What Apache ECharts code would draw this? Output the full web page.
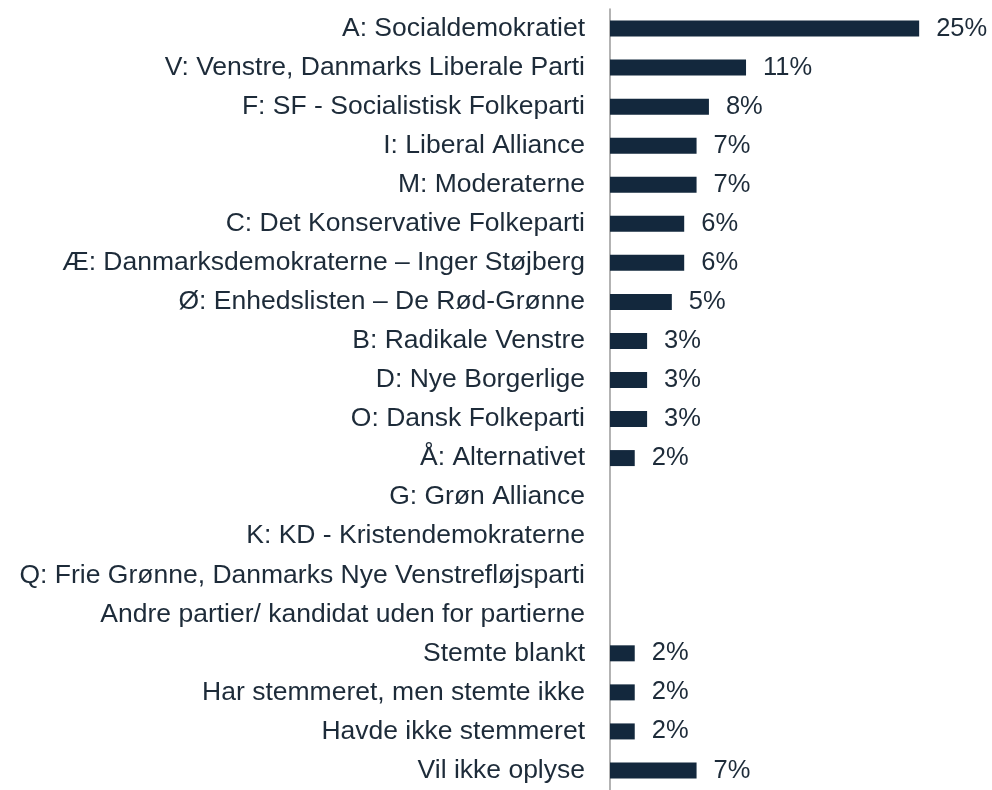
<!DOCTYPE html>
<html><head><meta charset="utf-8">
<script src="https://cdn.jsdelivr.net/npm/echarts@6/dist/echarts.min.js"></script>
<style>html,body{margin:0;padding:0;background:#fff}#c{width:992px;height:790px}</style>
</head><body><div id="c"></div>
<script>
const categories = [
  "A: Socialdemokratiet",
  "V: Venstre, Danmarks Liberale Parti",
  "F: SF - Socialistisk Folkeparti",
  "I: Liberal Alliance",
  "M: Moderaterne",
  "C: Det Konservative Folkeparti",
  "Æ: Danmarksdemokraterne – Inger Støjberg",
  "Ø: Enhedslisten – De Rød-Grønne",
  "B: Radikale Venstre",
  "D: Nye Borgerlige",
  "O: Dansk Folkeparti",
  "Å: Alternativet",
  "G: Grøn Alliance",
  "K: KD - Kristendemokraterne",
  "Q: Frie Grønne, Danmarks Nye Venstrefløjsparti",
  "Andre partier/ kandidat uden for partierne",
  "Stemte blankt",
  "Har stemmeret, men stemte ikke",
  "Havde ikke stemmeret",
  "Vil ikke oplyse"
];
const values = [25, 11, 8, 7, 7, 6, 6, 5, 3, 3, 3, 2, null, null, null, null, 2, 2, 2, 7];

const chart = echarts.init(document.getElementById('c'), null, {renderer: 'canvas'});
chart.setOption({
  animation: false,
  grid: {left: 610, right: 11, top: 9, bottom: -4, containLabel: false},
  xAxis: {type: 'value', min: 0, max: 30, show: false},
  yAxis: {
    type: 'category', inverse: true, data: categories,
    axisLine: {show: true, lineStyle: {color: '#9a9a9a', width: 1.5}},
    axisTick: {show: false},
    axisLabel: {color: '#1d2b39', fontFamily: '"Liberation Sans", Arial, sans-serif', fontSize: 26.5, margin: 25}
  },
  series: [{
    type: 'bar', data: values, barWidth: 16,
    itemStyle: {color: '#13283d'},
    label: {show: true, position: 'right', distance: 17, color: '#1d2b39',
      fontFamily: '"Liberation Sans", Arial, sans-serif', fontSize: 25.5,
      formatter: p => p.value == null ? '' : p.value + '%'}
  }]
});
</script></body></html>
